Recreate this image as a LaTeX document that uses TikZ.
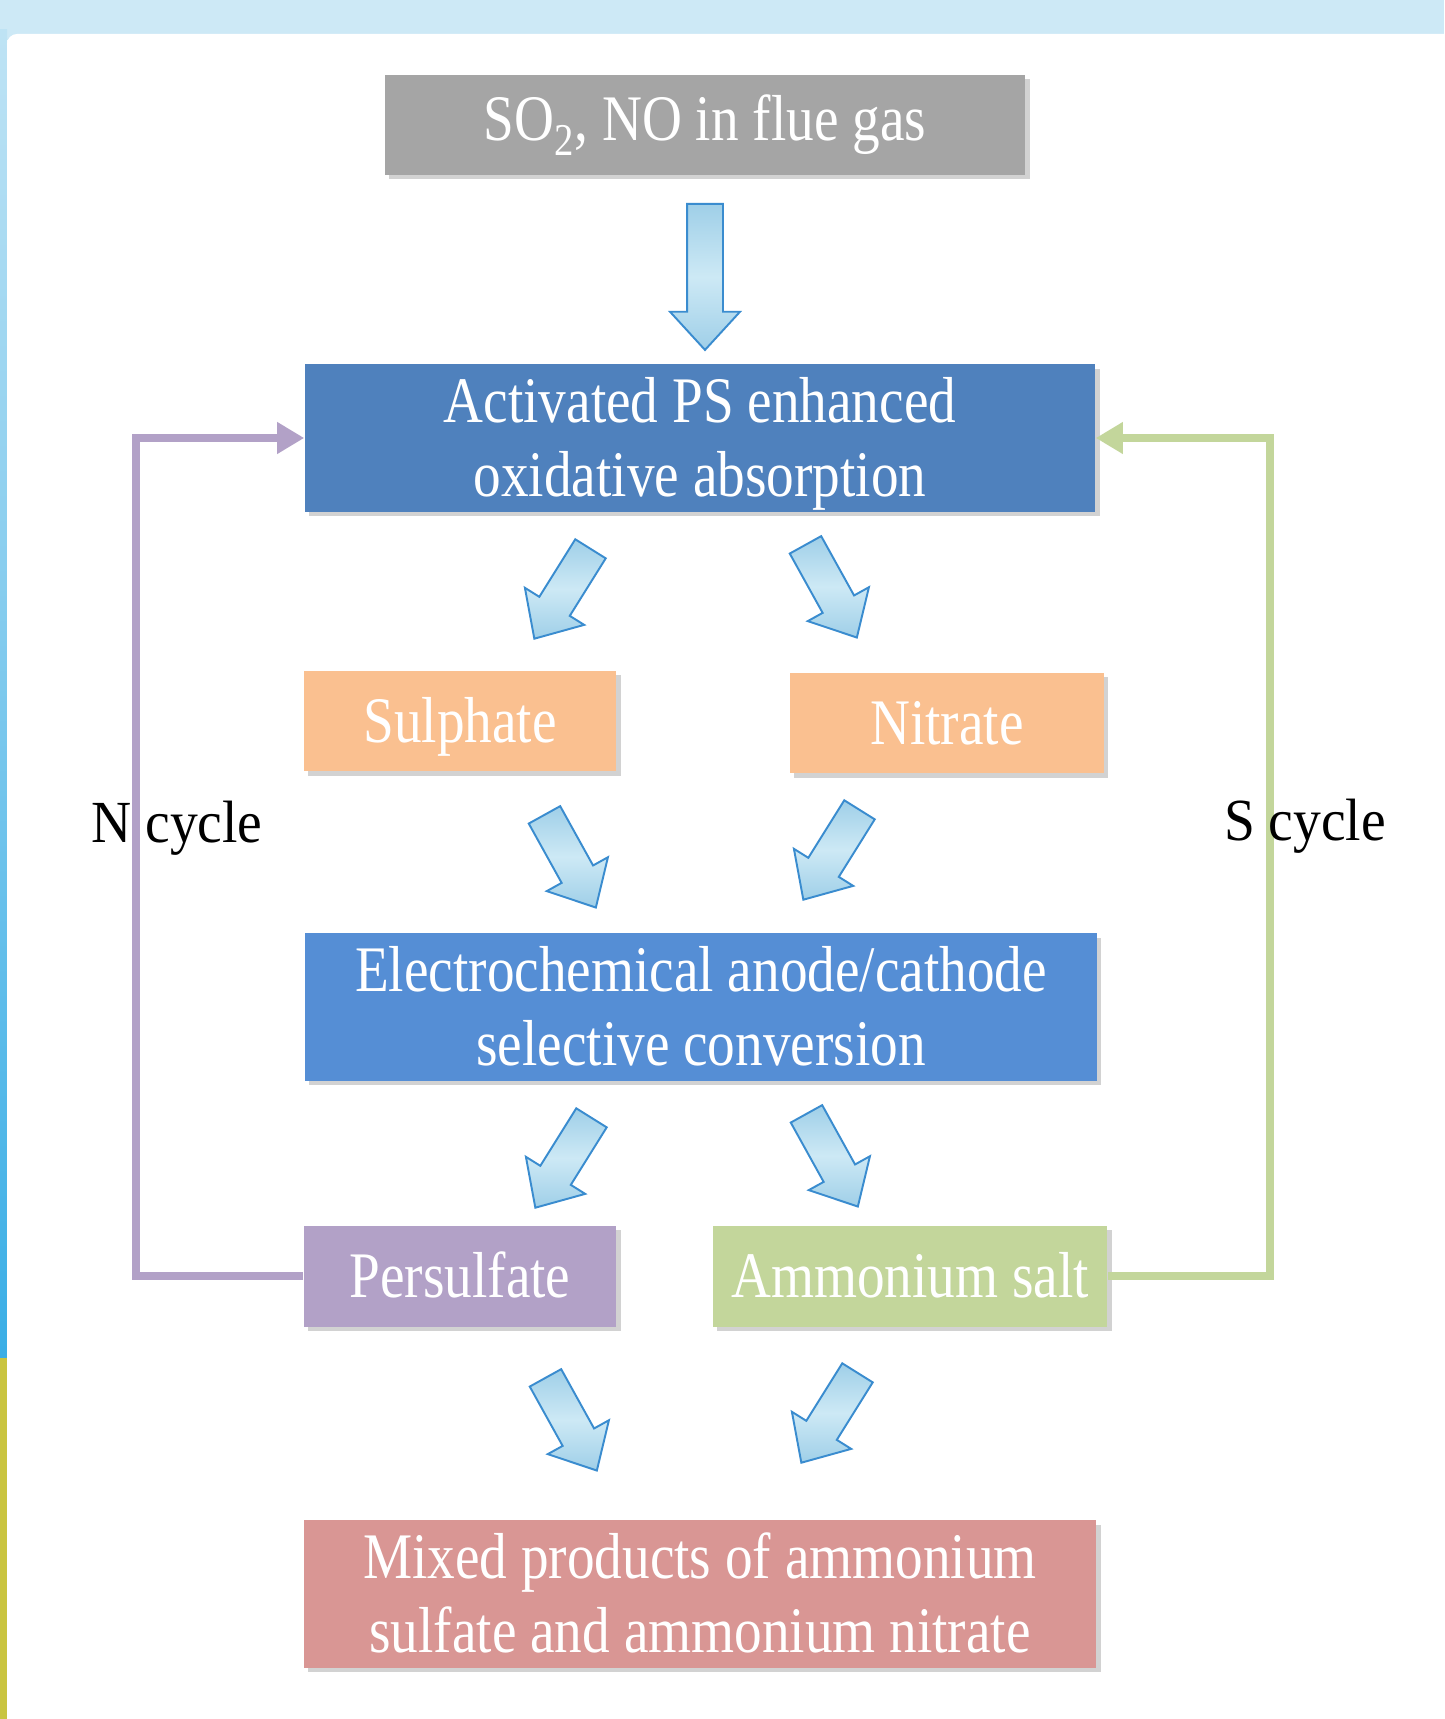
\documentclass[tikz,border=0pt]{standalone}
\usepackage{fontspec}
\setmainfont{Liberation Serif}[FakeStretch=0.85]
\newfontfamily\cyclefont{Liberation Serif}[FakeStretch=0.93]
\usetikzlibrary{shapes.arrows,shadows,arrows.meta}

\definecolor{bandblue}{HTML}{CDE9F6}
\definecolor{stripblue}{HTML}{3AAEE6}
\definecolor{stripyellow}{HTML}{C9C440}
\definecolor{boxgray}{HTML}{A5A5A5}
\definecolor{boxdark}{HTML}{4F81BD}
\definecolor{boxblue}{HTML}{558ED5}
\definecolor{boxorange}{HTML}{FAC090}
\definecolor{boxpurple}{HTML}{B2A1C7}
\definecolor{boxgreen}{HTML}{C3D69B}
\definecolor{boxred}{HTML}{D99694}
\definecolor{arrowline}{HTML}{3A8CCF}
\definecolor{arrowedge}{HTML}{9FCFE8}
\definecolor{arrowmid}{HTML}{CDE9F5}

% same height and depth for every line of box text
\newcommand{\boxstrut}{\rule[-8.5pt]{0pt}{41.5pt}}

\tikzstyle{box}=[rectangle, inner sep=0pt, text=white, align=center,
  font=\fontsize{37}{42.5}\selectfont,
  drop shadow={shadow xshift=2.5pt, shadow yshift=-2.5pt, opacity=.35}]
\tikzstyle{box gray}=[box, fill=boxgray]
\tikzstyle{box dark}=[box, fill=boxdark]
\tikzstyle{box blue}=[box, fill=boxblue]
\tikzstyle{box orange}=[box, fill=boxorange]
\tikzstyle{box purple}=[box, fill=boxpurple]
\tikzstyle{box green}=[box, fill=boxgreen]
\tikzstyle{box red}=[box, fill=boxred]
\tikzstyle{fat arrow}=[single arrow, draw=arrowline, line width=1.1pt,
  top color=arrowedge, bottom color=arrowedge, middle color=arrowmid,
  inner xsep=0pt, inner ysep=0.34cm, minimum width=1.36cm, minimum height=2.12cm,
  single arrow head extend=0.34cm, single arrow tip angle=85, anchor=tail]
\tikzstyle{cycle line}=[line width=0.16cm, -{Triangle[length=0.54cm,width=0.6cm]}]
\tikzstyle{cycle label}=[anchor=base, inner sep=0pt,
  font=\cyclefont\fontsize{34}{40}\selectfont]

\begin{document}
\begin{tikzpicture}[x=0.02cm,y=-0.02cm]

    % Background
    \clip (0,0) rectangle (1444,1719);
    \fill[bandblue] (0,0) rectangle (1444,40);
    \fill[top color=bandblue!90!stripblue, bottom color=stripblue]
    (0,30) rectangle (7,1358);
    \fill[stripyellow] (0,1358) rectangle (7,1719);
    \fill[white,rounded corners=0.2cm] (7,34) rectangle (1480,1760);

    % Boxes
    \draw (705,125) node[box gray, minimum width=12.82cm, minimum height=2cm]
    (gas) {SO\textsubscript{2}, NO in flue gas};
    \draw (700,438) node[box dark, minimum width=15.82cm, minimum height=2.92cm]
    (act) {\boxstrut Activated PS enhanced\\\boxstrut oxidative absorption};
    \draw (460,721) node[box orange, minimum width=6.26cm, minimum height=2.02cm]
    (sul) {\boxstrut Sulphate};
    \draw (947,723) node[box orange, minimum width=6.28cm, minimum height=2.02cm]
    (nit) {\boxstrut Nitrate};
    \draw (701,1007) node[box blue, minimum width=15.84cm, minimum height=2.92cm]
    (elec) {\boxstrut Electrochemical anode/cathode\\\boxstrut selective conversion};
    \draw (460,1276) node[box purple, minimum width=6.26cm, minimum height=2.02cm]
    (per) {\boxstrut Persulfate};
    \draw (910,1276) node[box green, minimum width=7.9cm, minimum height=2.02cm]
    (amm) {\boxstrut Ammonium salt};
    \draw (700,1594) node[box red, minimum width=15.86cm, minimum height=2.9cm]
    (mix) {\boxstrut Mixed products of ammonium\\\boxstrut sulfate and ammonium nitrate};

    % Fat arrows (placed by their tails)
    \draw (705,203) node[fat arrow, rotate=-90, minimum height=2.92cm] (a0) {};
    \draw (591,548) node[fat arrow, rotate=238] (a1) {};
    \draw (805,544) node[fat arrow, rotate=-61] (a2) {};
    \draw (544,814) node[fat arrow, rotate=-61] (a3) {};
    \draw (860,809) node[fat arrow, rotate=238] (a4) {};
    \draw (592,1117) node[fat arrow, rotate=238] (a5) {};
    \draw (806,1113) node[fat arrow, rotate=-61] (a6) {};
    \draw (545,1377) node[fat arrow, rotate=-61] (a7) {};
    \draw (858,1372) node[fat arrow, rotate=238] (a8) {};

    % Cycles
    \draw[cycle line, boxpurple] (per.west) -- ++(-167,0) |- (act.west);
    \draw[cycle line, boxgreen] (amm.east) -- ++(162,0) |- (act.east);
    \draw (177,842) node[cycle label] (ncyc) {N cycle};
    \draw (1305,840) node[cycle label] (scyc) {S cycle};

\end{tikzpicture}
\end{document}
